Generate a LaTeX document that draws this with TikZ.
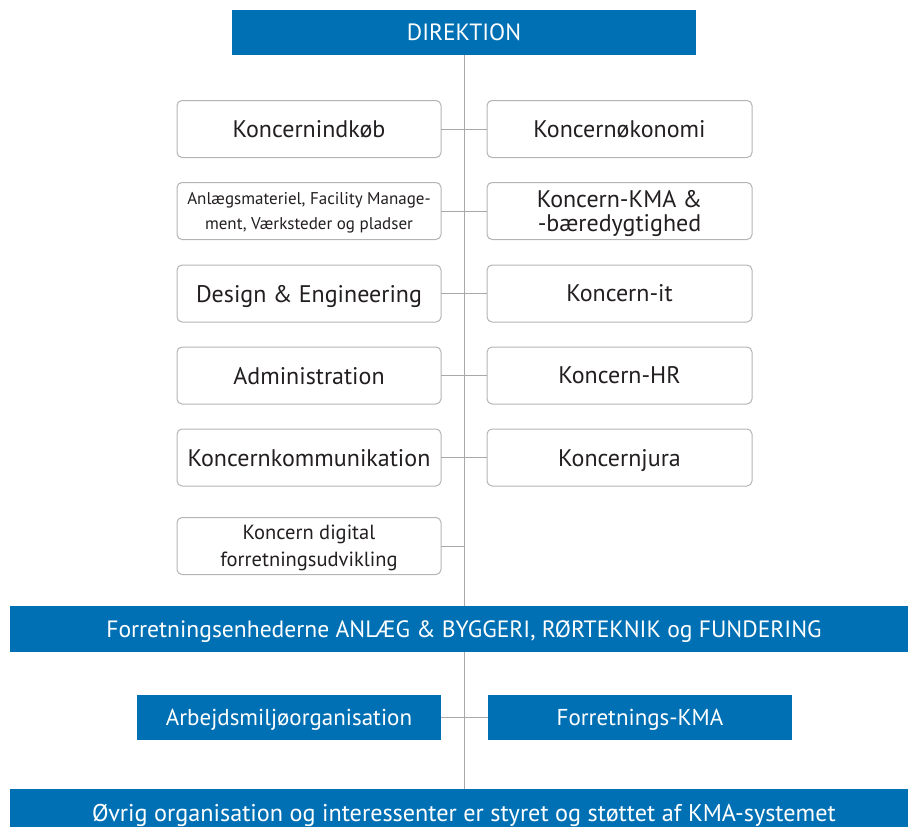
\documentclass[tikz,border=0pt]{standalone}
\usepackage{fontspec}
\setmainfont{PT Sans}
\definecolor{dblue}{HTML}{0070B4}
\definecolor{boxgray}{HTML}{B4B4B4}
\definecolor{linegray}{HTML}{A8A8A8}
\definecolor{textdark}{HTML}{231F20}
\tikzset{
  flat/.style={text depth=0pt},
  wbox/.style={draw=boxgray, line width=1pt, rounded corners=5pt, fill=white,
    align=center, text=textdark, inner sep=0pt, outer sep=0pt, flat,
    minimum height=57pt, font=\fontsize{24}{24}\selectfont},
  lbox/.style={wbox, minimum width=264pt},
  rbox/.style={wbox, minimum width=265pt},
  bbox/.style={fill=dblue, text=white, inner sep=0pt, outer sep=0pt, align=center, flat},
  conn/.style={draw=linegray, line width=1pt}
}
\begin{document}
\begin{tikzpicture}[x=1pt,y=-1pt]
\useasboundingbox (0,0) rectangle (908,827);
% blue bars
\node[bbox, minimum width=464pt, minimum height=45pt, font=\fontsize{23.5}{24}\selectfont] (dir) at (464,32.5) {DIREKTION};
\node[bbox, minimum width=908pt, minimum height=46pt, font=\fontsize{23.6}{24}\selectfont] (bar) at (464,629) {Forretningsenhederne ANLÆG \& BYGGERI, RØRTEKNIK og FUNDERING};
\node[bbox, minimum width=908pt, minimum height=48pt, font=\fontsize{24.2}{25}\selectfont] (bot) at (464,813) {Øvrig organisation og interessenter er styret og støttet af KMA-systemet};
\draw[conn] (dir.south) -- (dir.south |- bar.north);
\draw[conn] (bar.south) -- (bar.south |- bot.north);
% left column
\node[lbox] (l1) at (309,129) {Koncernindkøb};
\node[lbox, font=\fontsize{17}{25}\selectfont] (l2) at (309,211) {Anlægsmateriel, Facility Manage-\\ment, Værksteder og pladser};
\node[lbox] (l3) at (309,293.5) {Design \& Engineering};
\node[lbox] (l4) at (309,375.5) {Administration};
\node[lbox] (l5) at (309,457.5) {Koncernkommunikation};
\node[lbox, font=\fontsize{20.5}{27}\selectfont] (l6) at (309,546) {Koncern digital\\forretningsudvikling};
% right column
\node[rbox] (r1) at (619.5,129) {Koncernøkonomi};
\node[rbox] (r2) at (619.5,211) {Koncern-KMA \&\\-bæredygtighed};
\node[rbox] (r3) at (619.5,293.5) {Koncern-it};
\node[rbox] (r4) at (619.5,375.5) {Koncern-HR};
\node[rbox] (r5) at (619.5,457.5) {Koncernjura};
\draw[conn] (l1.east) -- (r1.west);
\draw[conn] (l2.east) -- (r2.west);
\draw[conn] (l3.east) -- (r3.west);
\draw[conn] (l4.east) -- (r4.west);
\draw[conn] (l5.east) -- (r5.west);
\draw[conn] (l6.east) -- (l6.east -| dir.south);
% blue pair
\node[bbox, minimum width=304pt, minimum height=45pt, font=\fontsize{23}{24}\selectfont] (a) at (289,717.5) {Arbejdsmiljøorganisation};
\node[bbox, minimum width=304pt, minimum height=45pt, font=\fontsize{23}{24}\selectfont] (b) at (640,717.5) {Forretnings-KMA};
\draw[conn] (a.east) -- (b.west);
\end{tikzpicture}
\end{document}
